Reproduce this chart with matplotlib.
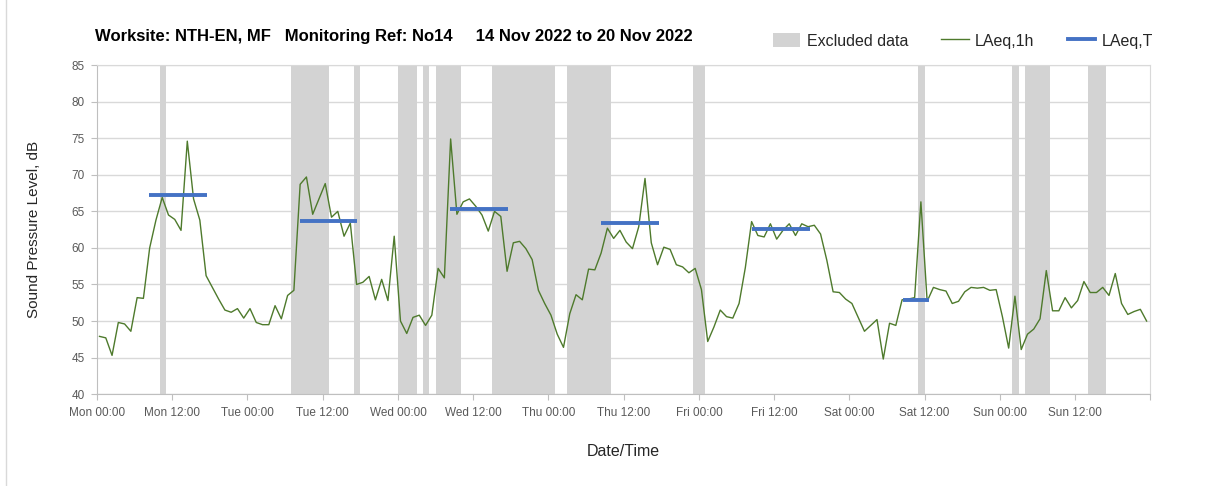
import numpy as np
import matplotlib
matplotlib.use("Agg")
import matplotlib.pyplot as plt
from matplotlib.patches import Patch
from matplotlib.lines import Line2D

plt.rcParams['font.family'] = ['Liberation Sans', 'DejaVu Sans']

# hourly LAeq,1h, Mon 00:00 .. Sun 23:00
laeq_1h = [
    47.9, 47.7, 45.3, 49.8, 49.6, 48.6, 53.2, 53.1, 60.0, 63.8, 66.9, 64.5,
    63.9, 62.4, 74.6, 66.7, 63.8, 56.2, 54.6, 53.0, 51.5, 51.2, 51.7, 50.4,
    51.7, 49.8, 49.5, 49.5, 52.1, 50.3, 53.5, 54.2, 68.7, 69.7, 64.6, 66.7,
    68.8, 64.2, 65.0, 61.6, 63.4, 55.0, 55.3, 56.1, 52.9, 55.7, 52.8, 61.6,
    50.0, 48.3, 50.5, 50.8, 49.4, 50.8, 57.2, 55.9, 74.9, 64.6, 66.3, 66.7,
    65.7, 64.5, 62.3, 65.0, 64.3, 56.8, 60.7, 60.9, 59.9, 58.4, 54.2, 52.4,
    50.8, 48.2, 46.4, 51.0, 53.6, 52.9, 57.1, 57.0, 59.3, 62.7, 61.3, 62.4,
    60.8, 59.9, 62.9, 69.5, 60.7, 57.7, 60.1, 59.8, 57.7, 57.4, 56.6, 57.2,
    54.3, 47.2, 49.2, 51.5, 50.6, 50.4, 52.4, 57.3, 63.6, 61.7, 61.5, 63.3,
    61.2, 62.4, 63.3, 61.7, 63.3, 62.9, 63.1, 61.9, 58.3, 54.0, 53.9, 53.0,
    52.4, 50.5, 48.6, 49.4, 50.2, 44.8, 49.7, 49.4, 52.9, 53.0, 53.2, 66.3,
    52.7, 54.6, 54.3, 54.1, 52.4, 52.7, 54.0, 54.6, 54.5, 54.6, 54.2, 54.3,
    50.6, 46.3, 53.4, 46.1, 48.2, 48.9, 50.3, 56.9, 51.4, 51.4, 53.2, 51.8,
    52.8, 55.4, 53.9, 53.9, 54.6, 53.5, 56.5, 52.4, 50.9, 51.3, 51.6, 50.0,
]
hours = np.arange(len(laeq_1h)) + 0.4

# LAeq,T periods (hours from Mon 00:00)
period_start = [8.3, 32.3, 56.3, 80.4, 104.4, 128.6]
period_end = [17.5, 41.5, 65.6, 89.6, 113.7, 132.7]
laeq_t = [67.2, 63.7, 65.3, 63.4, 62.6, 52.9]

# excluded data (hours from Mon 00:00)
excl_start = [10, 31, 41, 48, 52, 54, 63, 75, 95, 131, 146, 148, 158]
excl_end = [11, 37, 42, 51, 53, 58, 73, 82, 97, 132, 147, 152, 161]

tick_hours = list(range(0, 169, 12))
tick_labels = ['Mon 00:00', 'Mon 12:00', 'Tue 00:00', 'Tue 12:00', 'Wed 00:00',
               'Wed 12:00', 'Thu 00:00', 'Thu 12:00', 'Fri 00:00', 'Fri 12:00',
               'Sat 00:00', 'Sat 12:00', 'Sun 00:00', 'Sun 12:00', '']

fig = plt.figure(figsize=(12.08, 4.86), dpi=100)
ax = fig.add_axes([0.0803, 0.189, 0.872, 0.677])

band_col = '#d3d3d3'
green = '#4e7a2c'
blue = '#4472c4'

for s, e in zip(excl_start, excl_end):
    ax.axvspan(s, e, color=band_col, lw=0, zorder=1)

ax.plot(hours, laeq_1h, color=green, lw=1.0, zorder=3)
for s, e, v in zip(period_start, period_end, laeq_t):
    ax.plot([s, e], [v, v], color=blue, lw=2.8, zorder=4, solid_capstyle='butt')

ax.set_xlim(0, 168)
ax.set_ylim(40, 85)
ax.set_yticks(range(40, 86, 5))
ax.set_xticks(tick_hours)
ax.set_xticklabels(tick_labels)
ax.set_xticks(range(0, 169, 24), minor=True)
ax.grid(True, which='minor', axis='x', color='#d9d9d9', lw=1, zorder=0)
ax.grid(True, which='major', axis='y', color='#d9d9d9', lw=1, zorder=0)
ax.set_axisbelow(True)
ax.tick_params(axis='x', which='minor', length=0)
ax.tick_params(axis='both', which='major', labelsize=8.5, colors='#595959',
               length=4, width=0.8)
ax.tick_params(axis='x', which='major', pad=5, color='#bfbfbf')
ax.tick_params(axis='y', which='major', pad=5, color='#bfbfbf')
for sp in ax.spines.values():
    sp.set_color('#d9d9d9')
ax.spines['bottom'].set_color('#bfbfbf')
ax.spines['left'].set_color('#bfbfbf')

ax.set_ylabel('Sound Pressure Level, dB', fontsize=11, color='#262626', labelpad=22)
ax.set_xlabel('Date/Time', fontsize=11.5, color='#262626', labelpad=18)

fig.text(0.0786, 0.925, 'Worksite: NTH-EN, MF   Monitoring Ref: No14     14 Nov 2022 to 20 Nov 2022',
         fontsize=12, fontweight='bold', color='#000000', va='center', ha='left')

handles = [Patch(facecolor=band_col, edgecolor='none'),
           Line2D([], [], color=green, lw=1.0),
           Line2D([], [], color=blue, lw=2.8)]
fig.legend(handles, ['Excluded data', 'LAeq,1h', 'LAeq,T'], ncol=3,
           loc='center left', bbox_to_anchor=(0.628, 0.916), frameon=False,
           fontsize=11.5, handlelength=1.7, handleheight=1.0, columnspacing=2.1,
           handletextpad=0.4, labelcolor='#262626')

fig.add_artist(Line2D([0.005, 0.005], [0.0, 1.0], color='#d9d9d9', lw=1,
                      transform=fig.transFigure))

fig.savefig('out.png', dpi=100, facecolor='white')
